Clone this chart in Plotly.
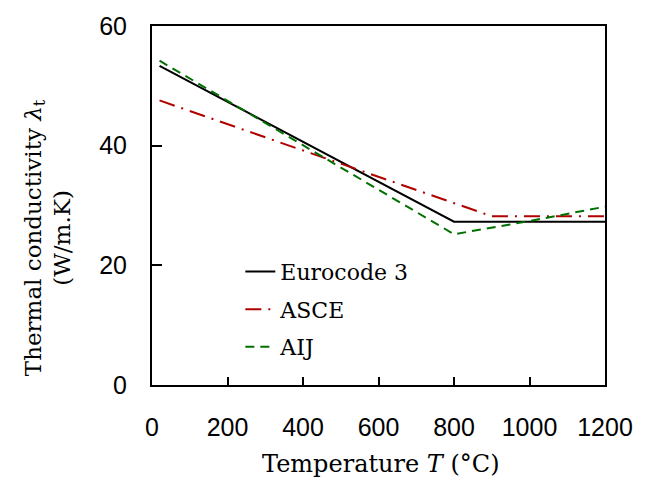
import plotly.graph_objects as go

# Data
temp_ec = [20, 800, 1200]
lam_ec = [53.33, 27.3, 27.3]

temp_asce = [20, 900, 1200]
lam_asce = [47.56, 28.2, 28.2]

temp_aij = [20, 800, 1000, 1200]
lam_aij = [54.2, 25.2, 27.4, 29.8]

series_names = ["Eurocode 3", "ASCE", "AIJ"]
x_ticks = [0, 200, 400, 600, 800, 1000, 1200]
y_ticks = [0, 20, 40, 60]

SERIF = "DejaVu Serif"
SANS = "Liberation Sans"

fig = go.Figure()
fig.add_trace(go.Scatter(x=temp_ec, y=lam_ec, mode="lines", name=series_names[0],
                         legendgroup="a",
                         line=dict(color="black", width=2)))
fig.add_trace(go.Scatter(x=temp_asce, y=lam_asce, mode="lines", name=series_names[1],
                         legendgroup="b",
                         line=dict(color="#b00000", width=2, dash="16px,7px,2px,7px")))
fig.add_trace(go.Scatter(x=temp_aij, y=lam_aij, mode="lines", name=series_names[2],
                         legendgroup="c",
                         line=dict(color="#007000", width=2, dash="9px,6px")))

axis_common = dict(
    showline=True, linecolor="black", linewidth=2, mirror=True,
    ticks="inside", tickcolor="black", tickwidth=1.5,
    showgrid=False, zeroline=False,
    tickfont=dict(family=SANS, size=25, color="black"),
)

fig.update_xaxes(range=[0, 1200], tickvals=x_ticks, ticklen=8,
                 ticklabelstandoff=19, **axis_common)
fig.update_yaxes(range=[0, 60], tickvals=y_ticks, ticklen=10,
                 ticklabelstandoff=18, **axis_common)

fig.add_annotation(
    text="Thermal conductivity <i>λ</i><sub>t</sub><br>(W/m.K)",
    xref="paper", yref="paper", x=-0.231, y=0.41,
    xanchor="center", yanchor="middle", textangle=-90, showarrow=False,
    font=dict(family=SERIF, size=23, color="black"),
)
fig.add_annotation(
    text="Temperature <i>T</i> (°C)",
    xref="paper", yref="paper", x=0.505, y=-0.22,
    xanchor="center", yanchor="middle", showarrow=False,
    font=dict(family=SERIF, size=24, color="black"),
)

fig.update_layout(
    width=645, height=484,
    margin=dict(l=152, r=34, t=17, b=99),
    paper_bgcolor="white", plot_bgcolor="white",
    showlegend=True,
    legend=dict(
        x=0.195, y=0.374, xanchor="left", yanchor="top",
        bgcolor="rgba(0,0,0,0)", traceorder="grouped", tracegroupgap=6,
        font=dict(family=SERIF, size=22, color="black"),
    ),
)

fig.write_html("out.html")
